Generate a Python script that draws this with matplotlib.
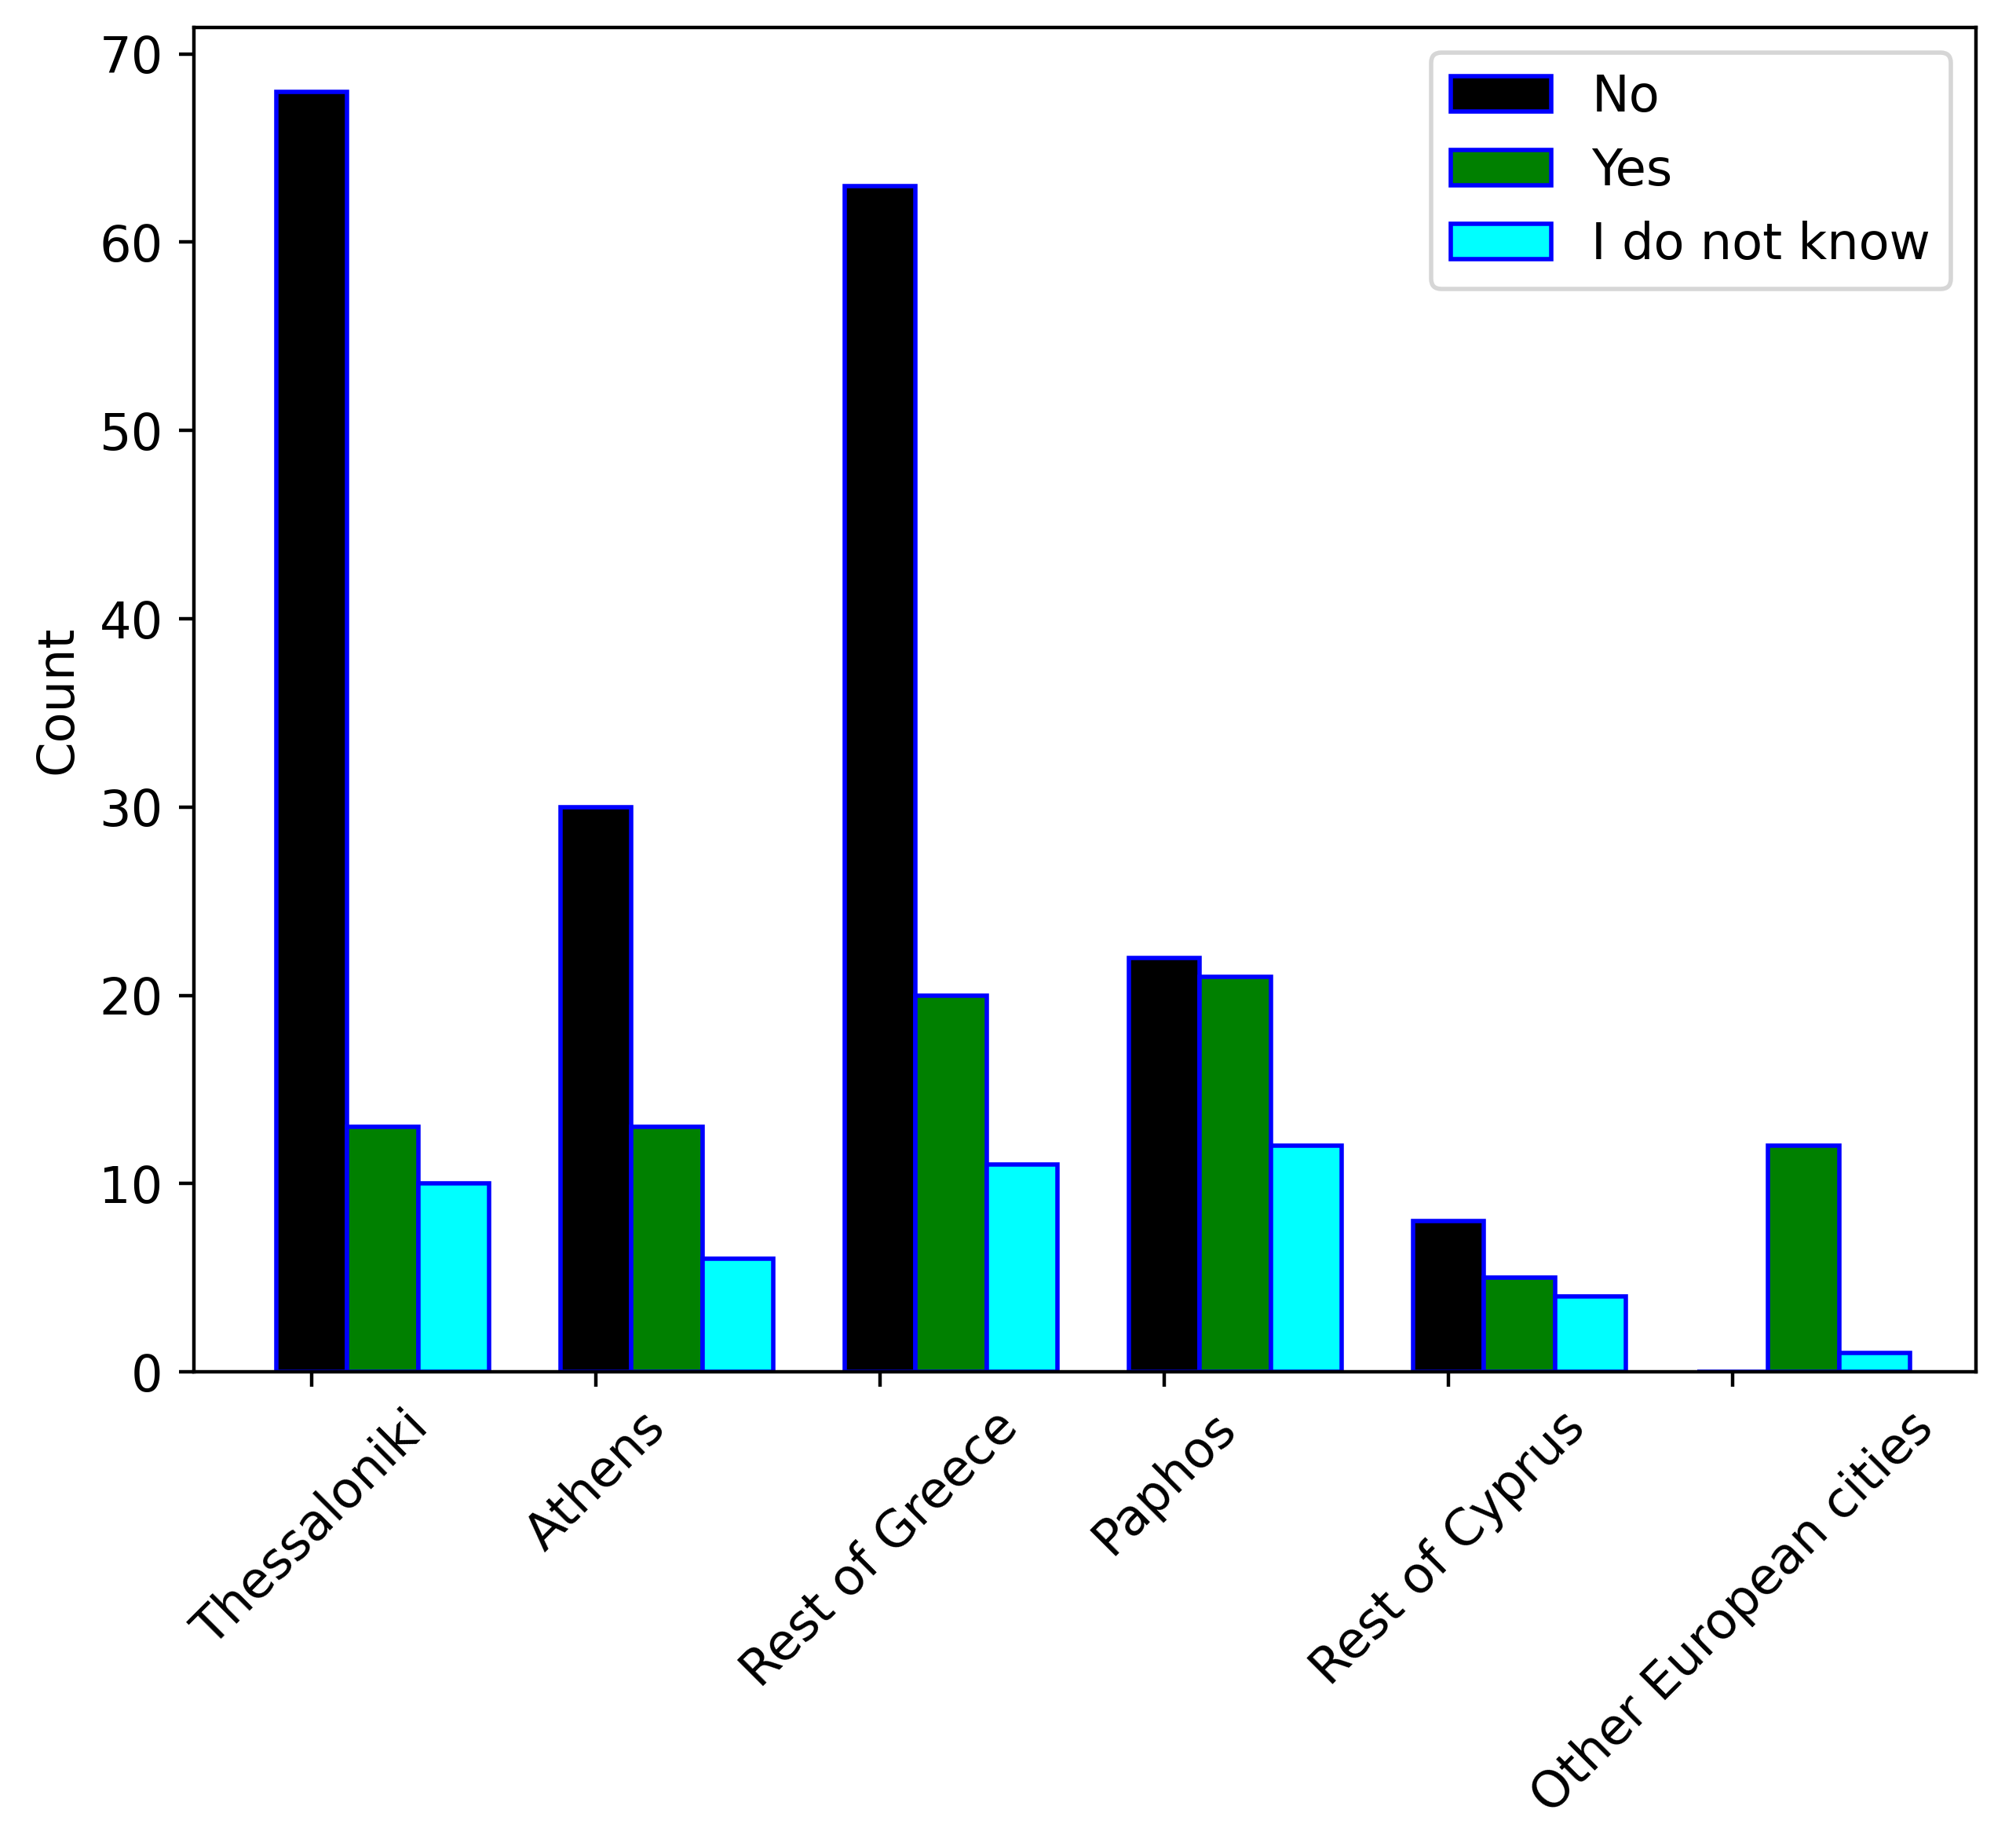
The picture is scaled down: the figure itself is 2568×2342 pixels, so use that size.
import numpy as np
import matplotlib
matplotlib.use("Agg")
import matplotlib.pyplot as plt

cities = ['Thessaloniki', 'Athens', 'Rest of Greece', 'Paphos', 'Rest of Cyprus', 'Other European cities']
no_counts = [68, 30, 63, 22, 8, 0]
yes_counts = [13, 13, 20, 21, 5, 12]
dunno_counts = [10, 6, 11, 12, 4, 1]

plt.rcParams['font.size'] = 11.5

x = np.arange(len(cities))
w = 0.25

fig, ax = plt.subplots(figsize=(6.42, 5.855), dpi=400)
fig.subplots_adjust(left=0.096, right=0.98, top=0.985, bottom=0.254)

ax.bar(x, no_counts, width=w, color='black', edgecolor='blue', label='No')
ax.bar(x + w, yes_counts, width=w, color='green', edgecolor='blue', label='Yes')
ax.bar(x + 2 * w, dunno_counts, width=w, color='cyan', edgecolor='blue', label='I do not know')

ax.set_xlim(-0.415, 5.855)
ax.set_xticks(x)
ax.set_xticklabels(cities, rotation=45)
ax.set_ylabel('Count')
ax.legend(loc='upper right')

fig.savefig('out.png', dpi=400)
